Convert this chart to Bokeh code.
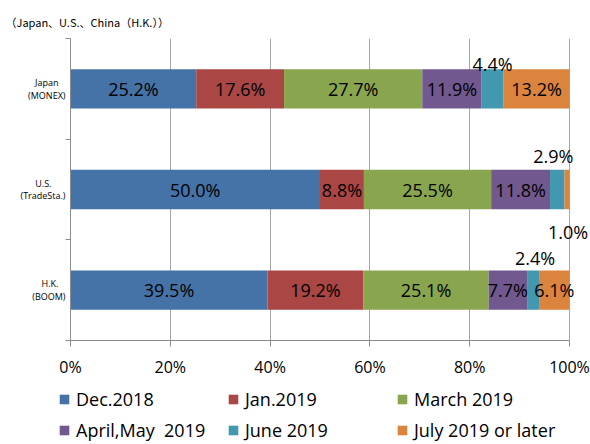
import numpy as np
from bokeh.plotting import figure
from bokeh.models import (ColumnDataSource, FixedTicker, Legend, LegendItem,
                          PrintfTickFormatter, Range1d)
from bokeh.core.properties import value
from bokeh.embed import file_html
from bokeh.resources import INLINE

title_text = "（Japan、U.S.、China（H.K.））"
brokers = ["Japan\n(MONEX)", "U.S.\n(TradeSta.)", "H.K.\n(BOOM)"]
periods = ["Dec.2018", "Jan.2019", "March 2019", "April,May  2019",
           "June 2019", "July 2019 or later"]
japan = [25.2, 17.6, 27.7, 11.9, 4.4, 13.2]
us = [50.0, 8.8, 25.5, 11.8, 2.9, 1.0]
hk = [39.5, 19.2, 25.1, 7.7, 2.4, 6.1]
x_ticks = [0, 20, 40, 60, 80, 100]

colors = ["#4572A7", "#AA4643", "#89A54E", "#71588F", "#4198AF", "#DB843D"]
FONT = "Open Sans"
NB = "\u00a0"

# small-label placement (pixel offsets, style only, +y = down): (row, series) -> (dx, dy)
small_offsets = {(0, 4): (0, -25), (1, 4): (-4, -34), (1, 5): (1, 42), (2, 4): (2, -32)}
# trailing padding so the first line is centred over the second (style only)
first_line_pad = [3, 6, 3]

rows = [japan, us, hk]
n = len(brokers)
ypos = [n - 1 - i + 0.5 for i in range(n)]
label_map = {}
for i, b in enumerate(brokers):
    a, c = b.split("\n")
    label_map[ypos[i]] = a + NB * first_line_pad[i] + "\n" + c

FRAME_L, FRAME_W_100 = 70, 499
W, H_MAIN, H_LEG = 590, 380, 64
x_end = 100 * (W - FRAME_L) / FRAME_W_100

p = figure(width=W, height=H_MAIN, x_range=Range1d(0, x_end), y_range=Range1d(0, n),
           output_backend="svg", toolbar_location=None,
           min_border_left=FRAME_L, min_border_right=0, min_border_top=38,
           min_border_bottom=39)
p.outline_line_color = None
p.background_fill_color = "white"
p.border_fill_color = "white"

arr = np.array(rows)
cum = np.cumsum(arr, axis=1)
left = cum - arr

sources = []
for j, per in enumerate(periods):
    src = ColumnDataSource(dict(y=ypos, left=left[:, j], right=cum[:, j]))
    sources.append(src)
    p.hbar(y="y", left="left", right="right", height=0.39, source=src,
           fill_color=colors[j], line_color=None)

# value labels
lx, ly, lt, dx, dy = [], [], [], [], []
for i in range(n):
    for j in range(len(periods)):
        v = arr[i, j]
        lx.append((left[i, j] + cum[i, j]) / 2)
        ly.append(ypos[i])
        lt.append(f"{v:.1f}%")
        off = small_offsets.get((i, j), (0, 0))
        dx.append(off[0])
        dy.append(off[1])
lsrc = ColumnDataSource(dict(x=lx, y=ly, t=lt, dx=dx, dy=dy))
p.text(x="x", y="y", text="t", x_offset="dx", y_offset="dy", source=lsrc,
       text_font=value(FONT), text_font_size="18px", text_color="#000000",
       text_align="center", text_baseline="middle")

# x axis
p.xaxis.ticker = FixedTicker(ticks=x_ticks)
p.xaxis.bounds = (x_ticks[0], x_ticks[-1])
p.xaxis.formatter = PrintfTickFormatter(format="%d%%")
p.xaxis.axis_line_color = "#8C8C8C"
p.xaxis.major_tick_line_color = "#8C8C8C"
p.xaxis.major_tick_out = 6
p.xaxis.major_tick_in = 0
p.xaxis.minor_tick_line_color = None
p.xaxis.major_label_text_font = FONT
p.xaxis.major_label_text_font_size = "16px"
p.xaxis.major_label_text_color = "#000000"
p.xaxis.major_label_standoff = 9

# y axis
p.yaxis.ticker = FixedTicker(ticks=ypos, minor_ticks=list(range(n + 1)))
p.yaxis.major_label_overrides = label_map
p.yaxis.axis_line_color = "#8C8C8C"
p.yaxis.major_tick_line_color = None
p.yaxis.major_tick_out = 0
p.yaxis.major_tick_in = 0
p.yaxis.minor_tick_line_color = "#8C8C8C"
p.yaxis.minor_tick_out = 5
p.yaxis.minor_tick_in = 0
p.yaxis.major_label_text_font = FONT
p.yaxis.major_label_text_font_size = "9px"
p.yaxis.major_label_text_line_height = 0.95
p.yaxis.major_label_text_color = "#000000"
p.yaxis.major_label_standoff = 0

p.xgrid.ticker = FixedTicker(ticks=x_ticks)
p.xgrid.grid_line_color = "#A6A6A6"
p.ygrid.grid_line_color = None

# title
p.title.text = title_text
p.title.align = "left"
p.title.offset = -65
p.title.standoff = 18
p.title.text_font = "Noto Sans CJK JP"
p.title.text_font_size = "11px"
p.title.text_font_style = "normal"
p.title.text_color = "#000000"

# legend figure (separate root, 2 rows x 3 columns, filled column by column)
p2 = figure(width=W, height=H_LEG, x_range=Range1d(0, 1), y_range=Range1d(0, 1),
            x_axis_type=None, y_axis_type=None, output_backend="svg",
            toolbar_location=None, min_border=0)
p2.outline_line_color = None
p2.xgrid.visible = False
p2.ygrid.visible = False
leg_r = []
for j, per in enumerate(periods):
    r = p2.hbar(y="y", left="left", right="right", height=0.39, source=sources[j],
                fill_color=colors[j], line_color=None, visible=False)
    leg_r.append(r)
order = [0, 3, 1, 4, 2, 5]
legend = Legend(items=[LegendItem(label=periods[j], renderers=[leg_r[j]]) for j in order],
                orientation="vertical", ncols=3,
                glyph_width=12, glyph_height=12, label_standoff=6,
                label_width=145, label_height=25, spacing=6,
                padding=0, margin=0, border_line_color=None,
                background_fill_alpha=0,
                label_text_font=FONT, label_text_font_size="18px",
                label_text_color="#000000", location=(58, 2))
p2.add_layout(legend)

open("out.html", "w").write(file_html([p, p2], INLINE))
